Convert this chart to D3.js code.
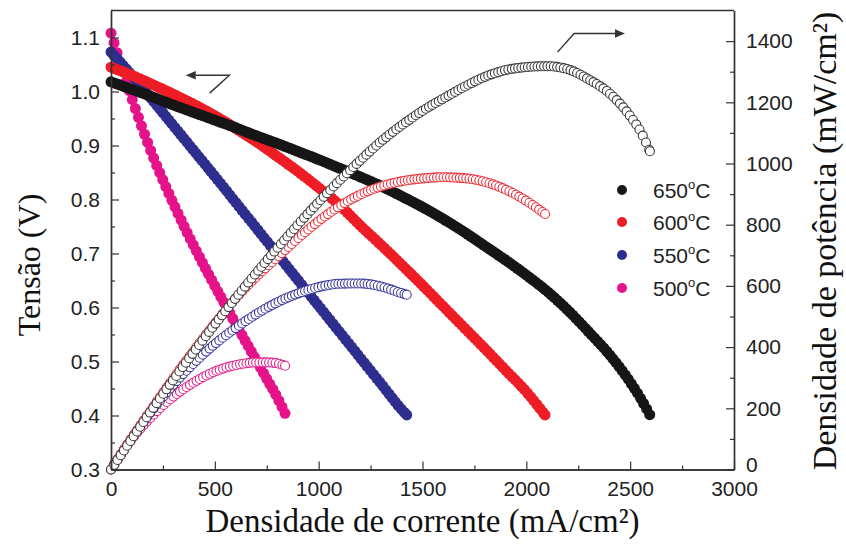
<!DOCTYPE html>
<html>
<head>
<meta charset="utf-8">
<script src="https://cdn.jsdelivr.net/npm/d3@7"></script>
<style>
  html, body { margin: 0; padding: 0; background: #fff; }
  svg { display: block; }
</style>
</head>
<body>
<svg id="chart" width="846" height="548"></svg>
<script>
// Current density (mA/cm²), cell voltage (V) and power density (mW/cm²) per temperature
const current650 = [0,100,200,300,400,500,600,700,800,900,1000,1100,1200,1300,1400,1500,1600,1700,1800,1900,2000,2100,2200,2300,2400,2500,2550,2595];
const voltage650 = [1.018,1.004,0.990,0.975,0.961,0.947,0.933,0.918,0.904,0.889,0.874,0.858,0.842,0.825,0.806,0.786,0.764,0.740,0.714,0.688,0.660,0.630,0.595,0.555,0.513,0.462,0.432,0.401];
const power650   = [0,100,198,293,385,474,560,643,723,800,874,944,1010,1072,1125,1172,1212,1250,1283,1305,1315,1318,1308,1275,1230,1155,1105,1040];

const current600 = [0,100,200,300,400,500,600,700,800,900,1000,1100,1200,1300,1400,1500,1600,1700,1800,1900,2000,2090];
const voltage600 = [1.045,1.030,1.013,0.995,0.976,0.955,0.932,0.907,0.880,0.852,0.822,0.790,0.752,0.716,0.679,0.641,0.602,0.563,0.524,0.484,0.444,0.401];
const power600   = [0,103,202,298,390,477,559,630,693,755,812,860,898,925,942,951,955,952,940,915,878,835];

const current550 = [0,100,200,300,400,500,600,700,800,900,1000,1100,1200,1300,1400,1424];
const voltage550 = [1.073,1.030,0.984,0.937,0.890,0.843,0.795,0.747,0.699,0.651,0.603,0.555,0.507,0.459,0.411,0.401];
const power550   = [0,103,195,277,348,410,462,508,546,575,596,607,608,598,576,571];

const current500 = [0,25,50,100,150,200,250,300,350,400,450,500,550,600,650,700,750,800,838];
const voltage500 = [1.108,1.077,1.047,0.988,0.933,0.882,0.836,0.793,0.752,0.713,0.676,0.640,0.605,0.570,0.536,0.502,0.468,0.434,0.404];
const power500   = [0,27,52,99,140,176,209,238,263,285,304,320,332,341,347,350,350,347,339];

const temperatures = ["650", "600", "550", "500"];
const seriesColors = ["#161616", "#ee1d25", "#2e2e8f", "#e5128a"];
const ringColors   = ["#3a3a3a", "#e8303a", "#3a3a9a", "#e0208a"];

const xTicks = [0,500,1000,1500,2000,2500,3000];
const xMinor = [250,750,1250,1750,2250,2750];
const vTicks = [0.3,0.4,0.5,0.6,0.7,0.8,0.9,1.0,1.1];
const vMinor = [0.35,0.45,0.55,0.65,0.75,0.85,0.95,1.05];
const pTicks = [0,200,400,600,800,1000,1200,1400];
const pMinor = [100,300,500,700,900,1100,1300];

const series = [
  { t: temperatures[0], I: current650, V: voltage650, P: power650, fill: seriesColors[0], ring: ringColors[0] },
  { t: temperatures[1], I: current600, V: voltage600, P: power600, fill: seriesColors[1], ring: ringColors[1] },
  { t: temperatures[2], I: current550, V: voltage550, P: power550, fill: seriesColors[2], ring: ringColors[2] },
  { t: temperatures[3], I: current500, V: voltage500, P: power500, fill: seriesColors[3], ring: ringColors[3] }
];

const svg = d3.select("#chart");
const plotLeft = 111, plotRight = 734, plotTop = 10.5, plotBottom = 469.5;

const x  = d3.scaleLinear().domain([0, 3000]).range([plotLeft, plotRight]);
const yV = d3.scaleLinear().domain([0.3, 1.15]).range([plotBottom, plotTop]);
const yP = d3.scaleLinear().domain([0, 1500]).range([plotBottom, plotTop]);

const axisColor = "#333";
const tickFont = "'Liberation Sans', Arial, sans-serif";
const titleFont = "'Liberation Serif', 'Times New Roman', serif";

// Marker trail: circles placed along the curve at a fixed horizontal pitch
function trail(points, pitch) {
  const line = d3.line().x(d => d[0]).y(d => d[1]).curve(d3.curveMonotoneX);
  const tmp = svg.append("path").attr("d", line(points)).attr("fill", "none");
  const node = tmp.node();
  const L = node.getTotalLength();
  const out = [];
  let nextX = -Infinity;
  for (let l = 0; l <= L; l += 0.25) {
    const p = node.getPointAtLength(l);
    if (p.x >= nextX) { out.push([p.x, p.y]); nextX = p.x + pitch; }
  }
  const end = node.getPointAtLength(L);
  const last = out[out.length - 1];
  if (Math.hypot(end.x - last[0], end.y - last[1]) > 0.5) out.push([end.x, end.y]);
  tmp.remove();
  return out;
}

const plot = svg.append("g");

// Voltage curves: filled markers
series.slice().reverse().forEach(s => {
  const pts = trail(s.I.map((c, i) => [x(c), yV(s.V[i])]), 3);
  plot.append("g").selectAll("circle").data(pts).join("circle")
    .attr("cx", d => d[0]).attr("cy", d => d[1]).attr("r", 5.5)
    .attr("fill", s.fill);
});

// Power density curves: open markers
series.slice().reverse().forEach(s => {
  const pts = trail(s.I.map((c, i) => [x(c), yP(s.P[i])]), 3.2);
  plot.append("g").selectAll("circle").data(pts).join("circle")
    .attr("cx", d => d[0]).attr("cy", d => d[1]).attr("r", 4.5)
    .attr("fill", "#fff").attr("stroke", s.ring).attr("stroke-width", 1.1);
});

// Axes (ticks pointing inward)
function styleAxis(g) {
  g.selectAll(".domain").attr("stroke", axisColor).attr("stroke-width", 1.4);
  g.selectAll(".tick line").attr("stroke", axisColor).attr("stroke-width", 1.2);
  g.selectAll(".tick text").attr("fill", "#222").style("font-family", tickFont).style("font-size", "21px");
}

svg.append("g").attr("transform", `translate(0,${plotBottom})`)
  .call(d3.axisBottom(x).tickValues(xMinor).tickSize(-4).tickSizeOuter(0).tickFormat(""))
  .call(styleAxis);
svg.append("g").attr("transform", `translate(0,${plotBottom})`)
  .call(d3.axisBottom(x).tickValues(xTicks).tickSize(-8).tickSizeOuter(0).tickPadding(12).tickFormat(d3.format("d")))
  .call(styleAxis);

svg.append("g").attr("transform", `translate(${plotLeft},0)`)
  .call(d3.axisLeft(yV).tickValues(vMinor).tickSize(-4).tickSizeOuter(0).tickFormat(""))
  .call(styleAxis);
svg.append("g").attr("transform", `translate(${plotLeft},0)`)
  .call(d3.axisLeft(yV).tickValues(vTicks).tickSize(-8).tickSizeOuter(0).tickPadding(11).tickFormat(d3.format(".1f")))
  .call(styleAxis);

svg.append("g").attr("transform", `translate(${plotRight},0)`)
  .call(d3.axisRight(yP).tickValues(pMinor).tickSize(-4).tickSizeOuter(0).tickFormat(""))
  .call(styleAxis);
svg.append("g").attr("transform", `translate(${plotRight},0)`)
  .call(d3.axisRight(yP).tickValues(pTicks).tickSize(-8).tickSizeOuter(0).tickPadding(12).tickFormat(d3.format("d")))
  .call(styleAxis)
  .call(g => g.selectAll(".tick text").filter(d => d === 0).attr("dy", "0.1em"));

// Top border
svg.append("line").attr("x1", plotLeft).attr("x2", plotRight).attr("y1", plotTop).attr("y2", plotTop)
  .attr("stroke", axisColor).attr("stroke-width", 1.4);

// Axis titles
svg.append("text").attr("x", (plotLeft + plotRight) / 2).attr("y", 532)
  .attr("text-anchor", "middle").style("font-family", titleFont).style("font-size", "33px").attr("fill", "#111")
  .text("Densidade de corrente (mA/cm²)");
svg.append("text").attr("transform", "translate(40,265) rotate(-90)")
  .attr("text-anchor", "middle").style("font-family", titleFont).style("font-size", "32px").attr("fill", "#111")
  .text("Tensão (V)");
svg.append("text").attr("transform", "translate(836,241) rotate(-90)")
  .attr("text-anchor", "middle").style("font-family", titleFont).style("font-size", "34px").attr("fill", "#111")
  .text("Densidade de potência (mW/cm²)");

// Legend
const legendY = [190, 222, 255, 288];
series.forEach((s, i) => {
  const g = svg.append("g").attr("transform", `translate(622,${legendY[i]})`);
  g.append("circle").attr("r", 5).attr("fill", s.fill);
  const t = g.append("text").attr("x", 31).attr("y", 7.5)
    .style("font-family", tickFont).style("font-size", "21px").attr("fill", "#222");
  t.append("tspan").text(s.t);
  t.append("tspan").attr("dy", -9).style("font-size", "13px").text("o");
  t.append("tspan").attr("dy", 9).text("C");
});

// Axis-assignment arrows
function arrow(pts, color) {
  const [a, b, tip] = pts;
  const dir = Math.sign(tip[0] - b[0]);
  const head = 10, half = 4.2;
  svg.append("path")
    .attr("d", `M${a[0]},${a[1]}L${b[0]},${b[1]}L${tip[0] - dir * head},${tip[1]}`)
    .attr("fill", "none").attr("stroke", color).attr("stroke-width", 1.4);
  svg.append("path")
    .attr("d", `M${tip[0]},${tip[1]}L${tip[0] - dir * head},${tip[1] - half}L${tip[0] - dir * head},${tip[1] + half}Z`)
    .attr("fill", color);
}
arrow([[x(475), yV(0.997)], [x(570), yV(1.03)], [x(360), yV(1.03)]], "#333");
arrow([[x(2150), yP(1364)], [x(2230), yP(1425)], [x(2475), yP(1425)]], "#333");
</script>
</body>
</html>
